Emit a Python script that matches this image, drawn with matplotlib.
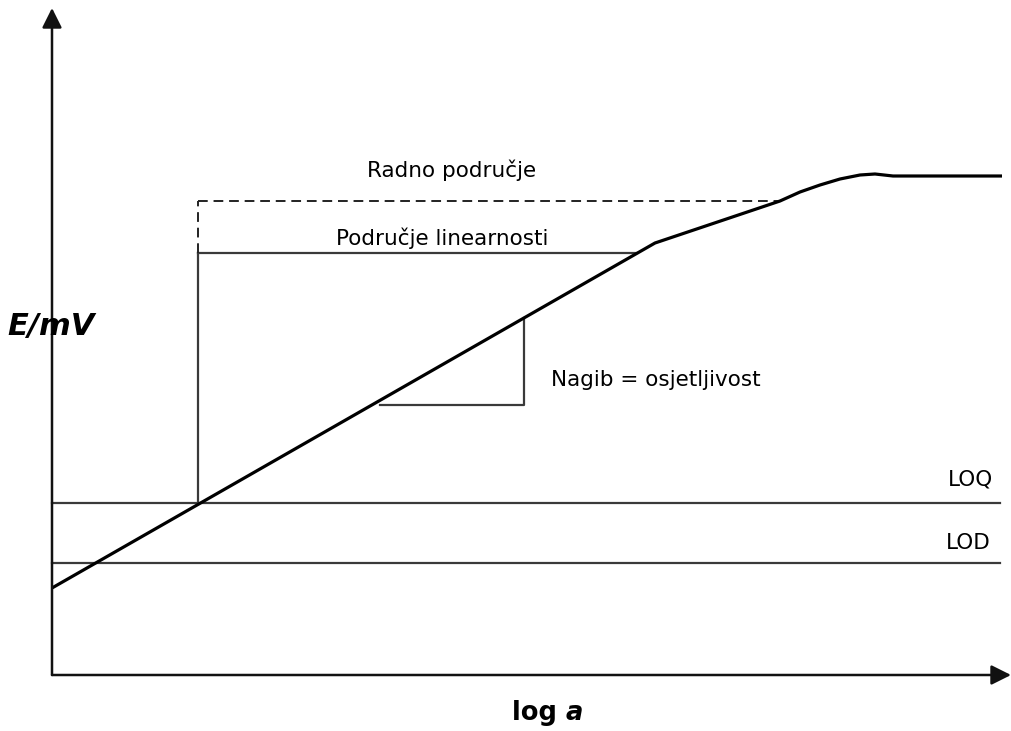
import matplotlib.pyplot as plt
import numpy as np

# schematic calibration curve (arbitrary units: x = log a, y = E/mV)
curve_x = [0, 603, 728, 748, 768, 788, 808, 823, 841, 950]
curve_E = [87, 432, 474, 483, 490, 496, 500, 501, 499, 499]

E_loq = 172
E_lod = 112
x_low = 146           # lower limit of working / linear range
E_lin_top = 422       # top of linear range
x_lin_end = 585
E_work_top = 474      # top of working range
x_work_end = 728

# slope triangle
tri_x = [328, 472, 472]
tri_E = [270, 270, 357]

fig = plt.figure(figsize=(10.11, 7.31), dpi=100)
ax = fig.add_axes([0, 0, 1, 1])
ax.set_xlim(-52, 959)
ax.set_ylim(-56, 675)
ax.axis('off')

gray = '#3a3a3a'

# axes with arrows
ax.annotate('', xy=(0, 667), xytext=(0, 0),
            arrowprops=dict(arrowstyle='-|>', mutation_scale=30, lw=1.8, color='#111111', shrinkA=0, shrinkB=0))
ax.annotate('', xy=(959, 0), xytext=(0, 0),
            arrowprops=dict(arrowstyle='-|>', mutation_scale=30, lw=1.8, color='#111111', shrinkA=0, shrinkB=0))

# LOQ / LOD
ax.plot([0, 948], [E_loq, E_loq], color=gray, lw=1.6)
ax.plot([0, 948], [E_lod, E_lod], color=gray, lw=1.6)

# ranges
ax.plot([x_low, x_low], [E_loq, E_lin_top], color=gray, lw=1.6)
ax.plot([x_low, x_lin_end], [E_lin_top, E_lin_top], color=gray, lw=1.6)
ax.plot([x_low, x_low], [E_lin_top, E_work_top], color='#222222', lw=1.4, ls=(0, (5, 3)))
ax.plot([x_low, x_work_end], [E_work_top, E_work_top], color='#222222', lw=1.4, ls=(0, (5, 3)))

# slope triangle
ax.plot(tri_x, tri_E, color=gray, lw=1.6)

# calibration curve
ax.plot(curve_x, curve_E, color='black', lw=2.3, solid_capstyle='butt')

fs = 15.5
ax.text(400, 505, 'Radno područje', fontsize=fs, ha='center', va='center')
ax.text(390, 437, 'Područje linearnosti', fontsize=fs, ha='center', va='center')
ax.text(499, 295, 'Nagib = osjetljivost', fontsize=fs, ha='left', va='center')
ax.text(919, 195, 'LOQ', fontsize=fs, ha='center', va='center')
ax.text(916, 132, 'LOD', fontsize=fs, ha='center', va='center')
ax.text(-45, 349, 'E/mV', fontsize=22, fontweight='bold', style='italic', ha='left', va='center')
ax.text(514, -38, 'log ', fontsize=18.5, fontweight='bold', ha='right', va='center')
ax.text(514, -38, 'a', fontsize=18.5, fontweight='bold', style='italic', ha='left', va='center')

plt.savefig('out.png', dpi=100)
